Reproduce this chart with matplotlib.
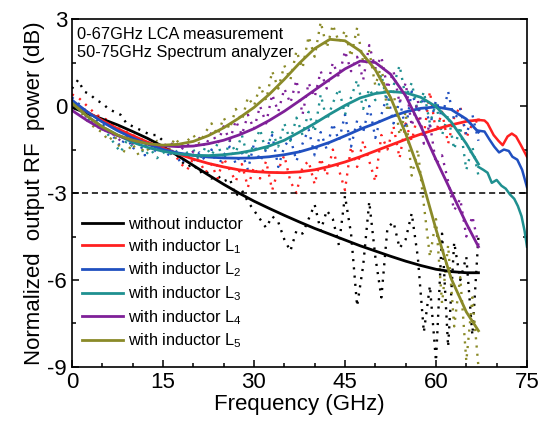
import matplotlib
matplotlib.use("Agg")
import matplotlib.pyplot as plt
from matplotlib.ticker import MultipleLocator

plt.rcParams['font.family'] = ['Liberation Sans', 'DejaVu Sans']
plt.rcParams['mathtext.fontset'] = 'custom'
plt.rcParams['mathtext.rm'] = 'Liberation Sans'
plt.rcParams['axes.unicode_minus'] = False

# ---------------- data ----------------
labels = ["without inductor", "with inductor L$\\mathregular{_1}$", "with inductor L$\\mathregular{_2}$",
          "with inductor L$\\mathregular{_3}$", "with inductor L$\\mathregular{_4}$", "with inductor L$\\mathregular{_5}$"]
colors = ["#000000", "#ff2020", "#2050c0", "#1f9090", "#7f2098", "#8a8a28"]

# fitted (smooth) curves, 0-67 GHz
freq_fit = [0, 2.5, 5, 7.5, 10, 12.5, 15, 17.5, 20, 22.5, 25, 27.5, 30, 32.5, 35, 37.5,
            40, 42.5, 45, 47.5, 50, 52.5, 55, 57.5, 60, 62.5, 65, 67]
fit_L0 = [-0.05, -0.25, -0.45, -0.65, -0.88, -1.12, -1.4, -1.72, -2.05, -2.38, -2.7, -3.0, -3.28, -3.53,
          -3.77, -4.0, -4.22, -4.42, -4.62, -4.82, -5.0, -5.18, -5.35, -5.5, -5.63, -5.71, -5.75, -5.75]
fit_L1 = [0.15, -0.2, -0.5, -0.78, -1.02, -1.25, -1.45, -1.65, -1.83, -1.98, -2.1, -2.2, -2.26, -2.29,
          -2.3, -2.27, -2.2, -2.08, -1.93, -1.75, -1.55, -1.35, -1.15, -0.97, -0.8, -0.65, -0.53, -0.48]
fit_L2 = [0.2, -0.2, -0.55, -0.85, -1.1, -1.32, -1.5, -1.62, -1.7, -1.76, -1.79, -1.8, -1.79, -1.75,
          -1.68, -1.58, -1.43, -1.25, -1.03, -0.8, -0.6, -0.38, -0.2, -0.08, -0.03, -0.12, -0.45, -0.9]
fit_L3 = [0.1, -0.35, -0.72, -1.0, -1.25, -1.43, -1.56, -1.65, -1.7, -1.71, -1.68, -1.62, -1.52, -1.38,
          -1.18, -0.9, -0.6, -0.28, 0.02, 0.28, 0.43, 0.5, 0.46, 0.3, -0.02, -0.55, -1.3, -2.0]
fit_L4 = [-0.15, -0.5, -0.8, -1.02, -1.18, -1.3, -1.37, -1.4, -1.38, -1.3, -1.18, -1.0, -0.78, -0.5,
          -0.18, 0.18, 0.55, 0.92, 1.28, 1.55, 1.5, 1.1, 0.35, -0.7, -1.85, -2.95, -4.05, -4.85]
fit_L5 = [0.1, -0.35, -0.72, -1.0, -1.18, -1.3, -1.35, -1.32, -1.22, -1.02, -0.75, -0.42, -0.05, 0.4,
          0.92, 1.48, 1.98, 2.3, 2.25, 1.9, 1.25, 0.3, -0.95, -2.4, -4.25, -5.95, -7.1, -7.75]

# LCA measured data (dotted), 0-67 GHz
freq_meas = list(range(0, 68))
meas_L0 = [0.6, 0.9, 0.5, 0.4, 0.2, 0.1, -0.1, -0.2, -0.3, -0.6, -0.7, -0.8, -0.9, -1.0, -1.0, -1.2, -1.5,
           -1.6, -1.9, -2.1, -2.0, -2.3, -2.2, -2.5, -2.4, -2.6, -2.5, -3.1, -2.9, -3.3, -3.6, -3.9, -4.2,
           -3.8, -4.0, -4.6, -5.0, -4.3, -4.4, -3.9, -3.4, -4.3, -3.6, -3.9, -4.8, -3.1, -4.4, -6.9, -5.5,
           -3.3, -5.2, -6.6, -4.2, -4.0, -4.9, -4.6, -3.7, -5.2, -7.8, -6.2, -8.8, -4.4, -8.3, -4.7, -6.0,
           -5.2, -7.9, -4.5]
meas_L1 = [0.4, 0.3, 0.1, -0.1, -0.3, -0.4, -0.5, -0.7, -0.8, -0.9, -1.0, -1.1, -1.2, -1.3, -1.4, -1.5,
           -1.6, -1.7, -2.0, -2.2, -1.8, -1.9, -2.3, -2.0, -2.5, -1.8, -2.2, -2.6, -2.0, -2.8, -2.1, -2.5,
           -1.9, -2.9, -2.2, -1.7, -2.6, -3.0, -2.1, -1.9, -2.7, -1.8, -2.4, -1.5, -2.2, -2.9, -1.4, -2.1,
           -1.2, -1.9, -2.6, -1.0, -1.5, -0.7, -1.8, -0.6, -1.2, -0.3, -1.0, 0.5, -0.9, -0.2, -1.3, -0.4,
           0.0, -1.1, -0.6, -0.5]
meas_L2 = [0.3, 0.1, -0.1, -0.3, -0.5, -0.6, -0.9, -1.1, -1.4, -1.0, -1.5, -1.2, -1.7, -1.4, -1.6, -1.5,
           -1.7, -1.6, -2.0, -1.7, -1.9, -1.6, -1.9, -1.5, -2.1, -1.7, -1.4, -2.0, -1.6, -2.2, -1.3, -1.9,
           -1.5, -1.0, -2.1, -1.4, -1.1, -1.9, -1.3, -0.8, -1.7, -0.9, -1.5, -0.6, -1.2, -0.3, -1.4, -0.5,
           -0.9, 0.0, -1.1, -0.3, 0.4, -0.6, 0.2, -0.8, 0.5, -0.2, 0.3, -0.7, 0.2, -0.4, 0.5, -0.5, -0.1,
           -1.0, -0.3, -1.2]
meas_L3 = [0.2, 0.0, -0.3, -0.5, -0.7, -0.8, -1.0, -1.3, -1.6, -1.2, -1.4, -1.3, -1.7, -1.5, -1.8, -1.6,
           -1.7, -1.5, -1.8, -1.6, -1.5, -1.9, -1.4, -1.7, -1.3, -1.9, -1.2, -1.6, -1.0, -1.8, -1.3, -0.8,
           -1.6, -0.9, -1.4, -0.6, -1.2, -0.4, -1.0, -0.2, -0.9, 0.4, -0.5, 0.1, 0.6, -0.3, 0.3, 0.9, -0.1,
           0.6, 0.2, 1.1, 0.0, 0.7, 1.4, 0.3, 0.8, -0.2, 0.5, -0.6, 0.1, -1.0, -0.3, -1.5, -0.7, -2.2, -1.4,
           -2.4]
meas_L4 = [0.0, -0.1, -0.3, -0.5, -0.7, -0.8, -0.9, -1.0, -1.2, -1.1, -1.3, -1.2, -1.4, -1.3, -1.5, -1.3,
           -1.4, -1.2, -1.5, -1.3, -1.6, -1.1, -1.4, -0.9, -1.3, -0.7, -1.2, -0.5, -1.0, -0.3, -0.8, 0.0,
           -0.6, 0.4, -0.2, 0.6, 0.1, 0.9, -0.3, 0.8, 0.3, 1.2, 0.6, 1.5, 1.0, 1.9, 1.2, 1.7, 0.9, 2.1, 1.3,
           1.7, 0.6, 1.2, 0.1, 0.8, -0.7, 0.2, -1.3, -0.6, -2.0, -1.7, -2.6, -3.6, -3.2, -4.5, -3.8, -4.8]
meas_L5 = [0.2, 0.0, -0.4, -0.6, -0.8, -0.9, -1.2, -1.0, -1.5, -1.6, -1.3, -1.7, -1.4, -1.6, -1.2, -1.4,
           -1.5, -1.1, -1.4, -1.2, -1.0, -1.3, -0.9, -0.6, -1.0, -0.4, -0.8, -0.1, -0.5, 0.3, 0.0, 0.7, 0.2,
           1.2, 0.6, 1.4, 0.9, 1.9, 1.3, 2.4, 1.7, 2.9, 2.0, 2.8, 2.2, 2.6, 1.7, 2.7, 1.5, 1.9, 0.7, 1.4,
           -0.2, 0.5, -1.0, -0.2, -2.4, -1.5, -3.4, -5.2, -3.9, -6.8, -4.8, -7.6, -5.9, -8.8, -6.6, -9.0]

# spectrum analyzer data (solid), 67-75 GHz
sa_freq_L1 = [67, 68, 68.5, 69.5, 70.3, 71, 71.8, 72.5, 73.2, 74, 75]
sa_L1 = [-0.48, -0.5, -0.6, -1.0, -1.2, -1.35, -1.05, -0.95, -1.05, -1.35, -1.75]
sa_freq_L2 = [67, 68, 68.8, 69.6, 70.4, 71.2, 72, 72.6, 73.4, 74.2, 75]
sa_L2 = [-0.85, -0.88, -1.15, -1.4, -1.6, -1.5, -1.55, -1.75, -1.85, -2.2, -2.8]
sa_freq_L3 = [67, 67.8, 68.5, 69.2, 70, 70.8, 71.5, 72.2, 72.9, 73.5, 74.1, 74.6, 75]
sa_L3 = [-2.1, -2.2, -2.3, -2.65, -2.55, -2.75, -2.85, -3.05, -3.2, -3.45, -3.8, -4.3, -4.85]

fits = [fit_L0, fit_L1, fit_L2, fit_L3, fit_L4, fit_L5]
meas = [meas_L0, meas_L1, meas_L2, meas_L3, meas_L4, meas_L5]

# ---------------- plot ----------------
fig = plt.figure(figsize=(5.47, 4.23), dpi=100)
ax = fig.add_axes([0.1316, 0.1324, 0.8318, 0.8226])

for m, c in zip(meas, colors):
    ax.plot(freq_meas, m, linestyle=(0, (0.9, 2.6)), color=c, lw=1.7)

ax.axhline(-3, color='black', lw=1.1, linestyle=(0, (4, 2.5)))

for f, c, lab in zip(fits, colors, labels):
    ax.plot(freq_fit, f, color=c, lw=2.0, label=lab)

ax.plot(sa_freq_L1, sa_L1, color=colors[1], lw=1.8)
ax.plot(sa_freq_L2, sa_L2, color=colors[2], lw=1.8)
ax.plot(sa_freq_L3, sa_L3, color=colors[3], lw=1.8)

ax.set_xlim(0, 75)
ax.set_ylim(-9, 3)
ax.xaxis.set_major_locator(MultipleLocator(15))
ax.xaxis.set_minor_locator(MultipleLocator(5))
ax.yaxis.set_major_locator(MultipleLocator(3))
ax.yaxis.set_minor_locator(MultipleLocator(1.5))
ax.tick_params(which='both', direction='in', right=True, top=False, labelsize=16, width=1.1)
ax.tick_params(which='major', length=5)
ax.tick_params(which='minor', length=3)
for s in ax.spines.values():
    s.set_linewidth(1.2)

ax.set_xlabel("Frequency (GHz)", fontsize=16, labelpad=1)
ax.set_ylabel("Normalized  output RF  power (dB)", fontsize=16, labelpad=2)

ax.text(0.01, 0.978, "0-67GHz LCA measurement\n50-75GHz Spectrum analyzer", transform=ax.transAxes,
        ha='left', va='top', fontsize=11.8, linespacing=1.25)

leg = ax.legend(loc='lower left', bbox_to_anchor=(0.0, 0.02), frameon=False, fontsize=11.8,
                handlelength=2.5, handletextpad=0.3, labelspacing=0.3, borderaxespad=0.2)

fig.savefig("out.png", dpi=100)
